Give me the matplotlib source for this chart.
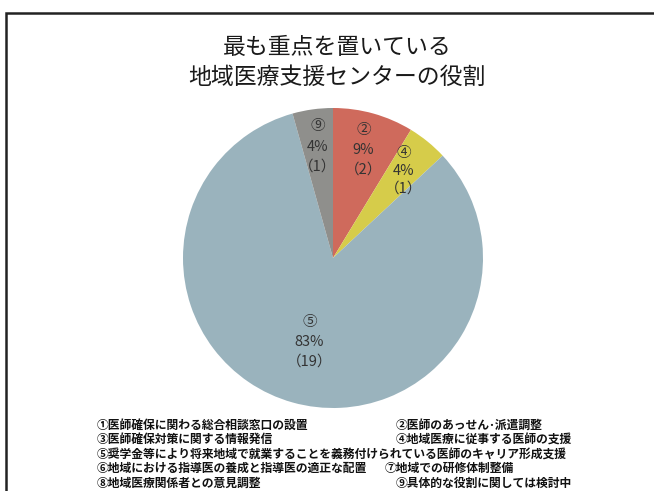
import numpy as np
import matplotlib.pyplot as plt
from matplotlib.patches import Rectangle

plt.rcParams['font.family'] = ['Noto Sans CJK JP', 'DejaVu Sans']

# data
marks = ['②', '④', '⑤', '⑨']
counts = [2, 1, 19, 1]
colors = ['#cf6a5c', '#d6cc4a', '#9ab3bd', '#8f8f8c']

legend_left = ['①医師確保に関わる総合相談窓口の設置',
               '③医師確保対策に関する情報発信',
               '⑤奨学金等により将来地域で就業することを義務付けられている医師のキャリア形成支援',
               '⑥地域における指導医の養成と指導医の適正な配置',
               '⑧地域医療関係者との意見調整']
legend_right = ['②医師のあっせん･派遣調整',
                '④地域医療に従事する医師の支援',
                '',
                '⑦地域での研修体制整備',
                '⑨具体的な役割に関しては検討中']

W, H = 654, 491
fig = plt.figure(figsize=(W / 100, H / 100), dpi=100)

# frame around the slide
fig.patches.append(Rectangle((6 / W, -0.1), 1.1, (H - 13) / H + 0.1,
                             transform=fig.transFigure, fill=False,
                             edgecolor='#222222', linewidth=1.8))

# title
fig.text(337 / W, 1 - 48 / H, '最も重点を置いている', ha='center', va='center',
         fontsize=16.5, color='#1a1a1a')
fig.text(337 / W, 1 - 77 / H, '地域医療支援センターの役割', ha='center', va='center',
         fontsize=16.5, color='#1a1a1a')

# pie
cx, cy, r = 333, 258, 150
ax = fig.add_axes([(cx - r) / W, 1 - (cy + r) / H, 2 * r / W, 2 * r / H])
wedges, _ = ax.pie(counts, colors=colors, startangle=90, counterclock=False,
                   radius=1)
ax.set_xlim(-1, 1)
ax.set_ylim(-1, 1)
ax.axis('off')

total = sum(counts)
for w, m, c in zip(wedges, marks, counts):
    ang = np.deg2rad((w.theta1 + w.theta2) / 2)
    dist = 0.58 if c == max(counts) else 0.75
    ls = 1.35 if m == '④' else 1.55
    ax.text(dist * np.cos(ang), dist * np.sin(ang),
            f'{m}\n{round(100 * c / total)}%\n（{c}）',
            ha='center', va='center', fontsize=10.5, color='#333333',
            linespacing=ls)

# legend text under the pie
for i, (a, b) in enumerate(zip(legend_left, legend_right)):
    y = 1 - (425 + 14.5 * i) / H
    fig.text(97 / W, y, a, ha='left', va='center', fontsize=8.5,
             fontweight='bold', color='#111111')
    if b:
        x = 385 if b.startswith('⑦') else 396
        fig.text(x / W, y, b, ha='left', va='center', fontsize=8.5,
                 fontweight='bold', color='#111111')

fig.savefig('out.png', dpi=100, facecolor='white')
